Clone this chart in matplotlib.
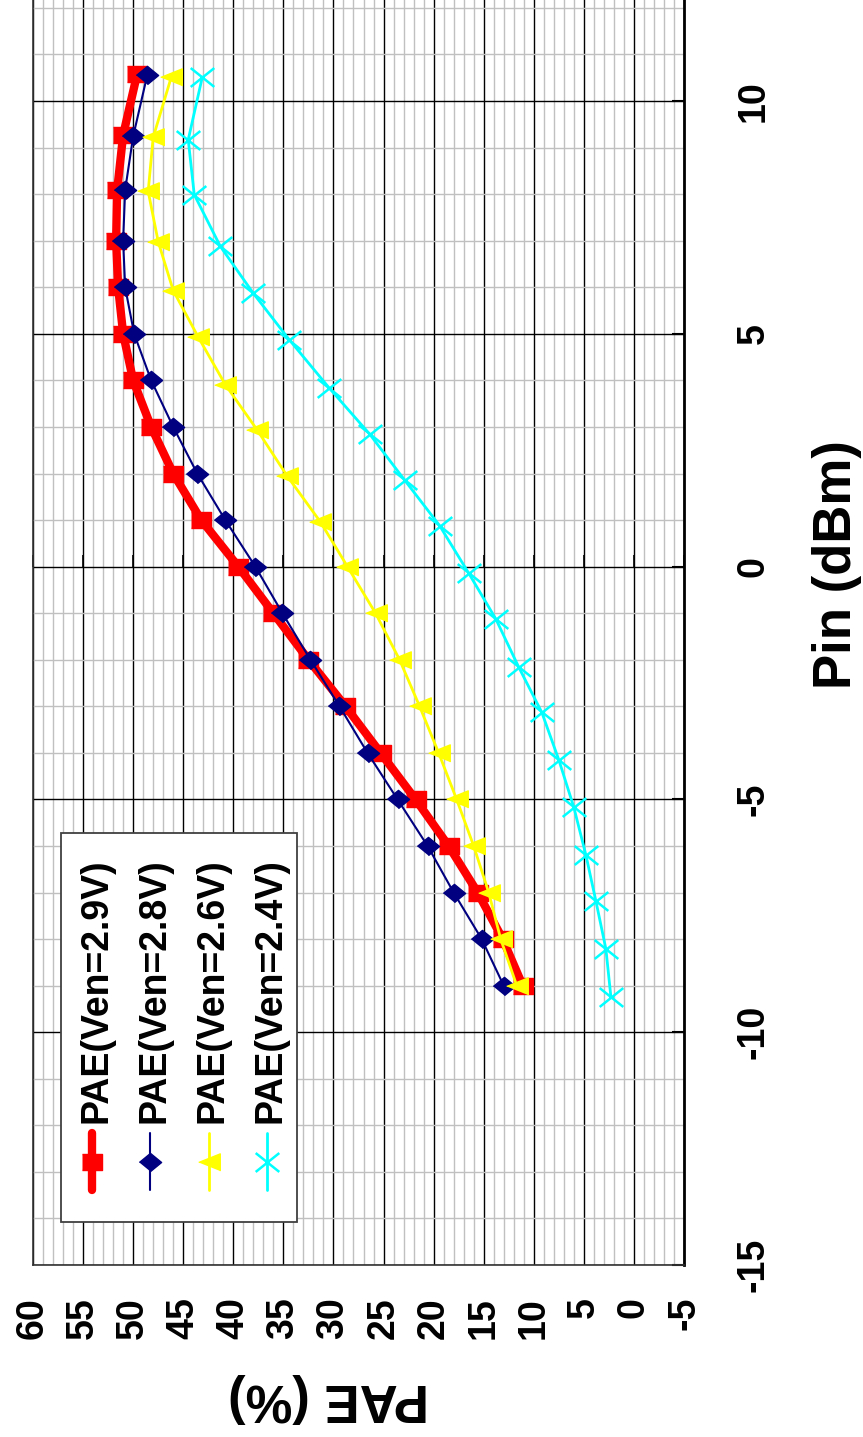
import matplotlib
matplotlib.use("Agg")
import matplotlib.pyplot as plt
from matplotlib import font_manager
from matplotlib.path import Path
from matplotlib.patches import Rectangle
from matplotlib.lines import Line2D
from matplotlib.ticker import MultipleLocator

# chart is drawn rotated 90 deg: Pin runs bottom->top, PAE runs right->left
labels = ["PAE(Ven=2.9V)", "PAE(Ven=2.8V)", "PAE(Ven=2.6V)", "PAE(Ven=2.4V)"]

pin_29 = [-9, -8, -7, -6, -5, -4, -3, -2, -1, 0, 1, 2, 3, 4, 5, 6, 7, 8.08, 9.27, 10.58]
pae_29 = [11.1, 13.1, 15.6, 18.5, 21.8, 25.3, 28.8, 32.5, 36.0, 39.5, 43.2, 46.0,
          48.2, 50.0, 51.0, 51.5, 51.7, 51.6, 51.0, 49.6]

pin_28 = [-9, -8, -7, -6, -5, -4, -3, -2, -1, 0, 1, 2, 3, 4, 5, 6, 7, 8.09, 9.24, 10.55]
pae_28 = [13.0, 15.2, 18.0, 20.6, 23.6, 26.6, 29.4, 32.3, 35.1, 37.8, 40.8, 43.6,
          46.0, 48.2, 49.9, 50.8, 51.0, 50.8, 50.0, 48.6]

pin_26 = [-9, -8, -7, -6, -5, -4, -3, -2, -1, 0, 0.96, 1.94, 2.93, 3.91, 4.93, 5.93,
          6.98, 8.06, 9.22, 10.51]
pae_26 = [11.7, 13.3, 14.5, 16.0, 17.7, 19.5, 21.4, 23.4, 25.8, 28.6, 31.3, 34.6,
          37.6, 40.8, 43.5, 46.0, 47.5, 48.5, 48.0, 46.2]

pin_24 = [-9.24, -8.21, -7.18, -6.19, -5.17, -4.15, -3.13, -2.16, -1.12, -0.14, 0.88,
          1.86, 2.85, 3.83, 4.87, 5.87, 6.88, 7.99, 9.17, 10.51]
pae_24 = [2.3, 2.8, 3.8, 4.8, 6.0, 7.5, 9.2, 11.5, 13.8, 16.5, 19.4, 22.9, 26.4, 30.4,
          34.4, 38.0, 41.3, 43.9, 44.5, 43.1]

pae_ticks = list(range(-5, 61, 5))
pin_ticks = list(range(-15, 11, 5))

names = {f.name for f in font_manager.fontManager.ttflist}
if "Liberation Sans Narrow" in names:
    narrow, tick_fs, leg_fs = "Liberation Sans Narrow", 33, 33
else:
    narrow, tick_fs, leg_fs = "Liberation Sans", 27, 27
plt.rcParams["font.family"] = ["Liberation Sans", "DejaVu Sans"]
plt.rcParams["axes.unicode_minus"] = False

# marker shapes (drawn already rotated)
m_sq = [(-1, -0.8), (1, -0.8), (1, 0.8), (-1, 0.8)]
m_dia = [(-1, 0), (0, 0.82), (1, 0), (0, -0.82)]
m_tri = [(-1, 0), (1, 0.8), (1, -0.8)]
m_x = Path([(-1, -0.8), (1, 0.8), (-1, 0.8), (1, -0.8)],
           [Path.MOVETO, Path.LINETO, Path.MOVETO, Path.LINETO])

styles = [
    dict(color="#ff0000", lw=6.0, marker=m_sq, ms=14, mfc="#ff0000", mec="#ff0000"),
    dict(color="#000080", lw=1.5, marker=m_dia, ms=16, mfc="#000080", mec="#000080"),
    dict(color="#ffff00", lw=2.0, marker=m_tri, ms=15.5, mfc="#ffff00", mec="#ffff00"),
    dict(color="#00ffff", lw=2.0, marker=m_x, ms=17, mfc="none", mec="#00ffff", mew=1.8),
]

fig = plt.figure(figsize=(8.63, 14.37), dpi=100)
W, H = 863, 1437
ax = fig.add_axes([33 / W, 1 - 1265 / H, (684 - 33) / W, 1265 / H])

series = [(pae_29, pin_29), (pae_28, pin_28), (pae_26, pin_26), (pae_24, pin_24)]
for (x, y), st in zip(series, styles):
    ax.plot(x, y, **st, zorder=3)

ax.set_xlim(60, -5)
ax.set_ylim(-15, 12.17)
ax.xaxis.set_minor_locator(MultipleLocator(1))
ax.yaxis.set_minor_locator(MultipleLocator(1))
ax.set_xticks(pae_ticks)
ax.set_yticks(pin_ticks)
ax.set_axisbelow(True)
ax.grid(which="minor", color="#c0c0c0", lw=1.0)
ax.grid(which="major", color="black", lw=1.0)

ax.yaxis.set_ticks_position("right")
ax.tick_params(axis="x", which="both", length=0, pad=23, labelrotation=90)
ax.tick_params(axis="y", which="major", direction="in", length=9, width=1.5,
               pad=37, labelrotation=90)
ax.tick_params(axis="y", which="minor", length=0)
for lab in ax.get_xticklabels() + ax.get_yticklabels():
    lab.set_fontfamily(narrow)
    lab.set_fontweight("bold")
    lab.set_fontsize(tick_fs)
for lab in ax.get_yticklabels():
    lab.set_va("center")

for side in ["left", "bottom"]:
    ax.spines[side].set_color("#333333")
    ax.spines[side].set_linewidth(1.2)
ax.spines["right"].set_color("black")
ax.spines["right"].set_linewidth(2)
ax.spines["top"].set_visible(False)

# tick marks of the value axis that crosses at Pin = 0
tick_up = Path([(0, 0), (0, 1)], [Path.MOVETO, Path.LINETO])
ax.plot(pae_ticks, [0] * len(pae_ticks), ls="none", marker=tick_up, ms=17,
        mec="black", mew=1.2, zorder=2, clip_on=False)

fig.text(837 / W, 1 - 565 / H, "Pin (dBm)", rotation=90, fontsize=38,
         fontweight="bold", ha="center", va="center")
fig.text(328 / W, 1 - 1398 / H, "PAE (%)", rotation=180, fontsize=38,
         fontweight="bold", ha="center", va="center")

# legend, built by hand because its entries are rotated
lax = fig.add_axes([0, 0, 1, 1], facecolor="none")
lax.set_xlim(0, W)
lax.set_ylim(H, 0)
lax.axis("off")
lax.add_patch(Rectangle((61, 833), 236, 389, facecolor="white",
                        edgecolor="#404040", lw=1.3))
for i, (lab, st) in enumerate(zip(labels, styles)):
    xc = 92 + 58.3 * i
    lax.add_line(Line2D([xc, xc], [1133, 1190], color=st["color"], lw=st["lw"],
                        solid_capstyle="round"))
    mk = {k: v for k, v in st.items() if k not in ("lw", "color")}
    lax.plot([xc], [1162], ls="none", **mk)
    lax.text(xc + 4, 1123, lab, rotation=90, ha="center", va="bottom",
             fontsize=leg_fs, fontweight="bold", fontfamily=narrow)

fig.savefig("out.png", dpi=100)
